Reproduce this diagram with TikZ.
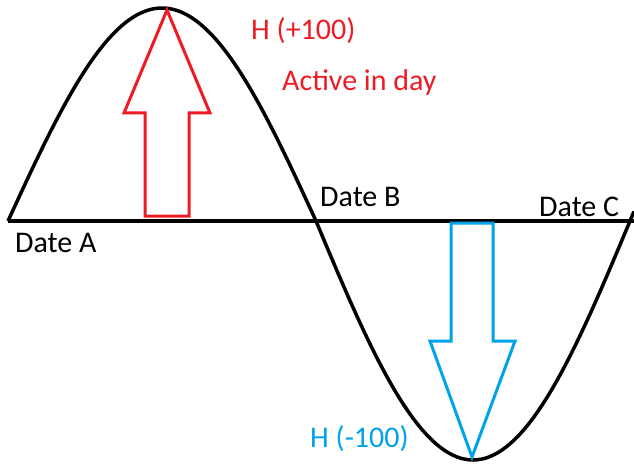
\documentclass[tikz,border=0pt]{standalone}
\usepackage{fontspec}
\setmainfont{Carlito}
\definecolor{paintred}{RGB}{237,28,36}
\definecolor{paintblue}{RGB}{0,162,232}
\tikzset{
  lbl/.style={anchor=base west,inner sep=0pt,font=\fontsize{30}{34}\selectfont},
  blockarrow/.style={line width=3pt,line join=miter}
}
\begin{document}
\begin{tikzpicture}[x=1pt,y=-1pt]
    \useasboundingbox (0,0) rectangle (634,465);
    \draw[line width=3.5pt] (8,221) -- (634,221);
    \draw[line width=3.5pt] plot[domain=8:316,samples=80] (\x,{221-213*sin((\x-8)/308*180)});
    \draw[line width=3.5pt] plot[domain=316:634,samples=80] (\x,{221+239*sin((\x-316)/314*180)});
    \draw[blockarrow,paintred] (145,216) -- (145,113) -- (124,113) -- (167,10) -- (210,113) -- (189,113) -- (189,216) -- cycle;
    \draw[blockarrow,paintblue] (451,223) -- (451,341) -- (430,341) -- (472,457) -- (515,341) -- (493,341) -- (493,223) -- cycle;
    \node[lbl,paintred] (hplus) at (251,40) {H (+100)};
    \node[lbl,paintred] (active) at (282,91) {Active in day};
    \node[lbl] (dateA) at (15,252) {Date A};
    \node[lbl] (dateB) at (320,207) {Date B};
    \node[lbl] (dateC) at (539,216) {Date C};
    \node[lbl,paintblue] (hminus) at (310,447) {H (-100)};
  \end{tikzpicture}
\end{document}
